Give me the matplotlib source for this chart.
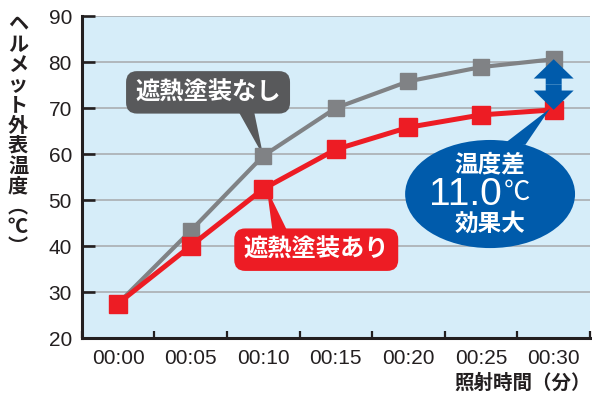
import numpy as np
import matplotlib.pyplot as plt
from matplotlib.patches import Polygon, Ellipse, FancyArrow

times = ["00:00", "00:05", "00:10", "00:15", "00:20", "00:25", "00:30"]
no_coat = [27.5, 43.3, 59.6, 70.0, 75.8, 78.9, 80.6]    # 遮熱塗装なし
with_coat = [27.5, 40.0, 52.4, 61.0, 65.8, 68.5, 69.6]  # 遮熱塗装あり
yticks = [20, 30, 40, 50, 60, 70, 80, 90]
ylabel_chars = ["ヘ", "ル", "メ", "ッ", "ト", "外", "表", "温", "度", "︵", "℃", "︶"]
diff_value = "11.0"

JP = "Noto Sans CJK JP"
BG = "#d6edf9"
GRAY = "#808285"
RED = "#ed1c24"
BLUE = "#005bab"
DARK = "#231f20"
BOX_GRAY = "#58595b"

W, H = 592, 394
fig = plt.figure(figsize=(W / 100, H / 100), dpi=100)
ax = fig.add_axes([81.7 / W, 1 - 338 / H, (590 - 81.7) / W, (338 - 16) / H])
ax.set_facecolor(BG)

x = np.arange(len(times))
ax.set_xlim(-0.5, len(times) - 0.5)
ax.set_ylim(20, 90)

# horizontal grid
for v in yticks[1:]:
    ax.axhline(v, color="#a7a9ac", lw=1.1, zorder=1)

ax.plot(x, no_coat, color=GRAY, lw=3.0, marker="s", ms=12, mec=GRAY, zorder=4)
ax.plot(x, with_coat, color=RED, lw=3.6, marker="s", ms=13, mec=RED, zorder=5)

# axes styling
for s in ["top", "right"]:
    ax.spines[s].set_visible(False)
for s in ["left", "bottom"]:
    ax.spines[s].set_linewidth(2.2)
    ax.spines[s].set_color(DARK)
ax.set_yticks(yticks)
ax.tick_params(axis="y", direction="in", length=9.5, width=1.9, color=DARK,
               pad=7, labelsize=15, labelcolor=DARK)
ax.set_xticks(x)
ax.set_xticklabels(times)
ax.set_xticks(np.arange(-0.5, len(times)), minor=True)
ax.tick_params(axis="x", which="major", length=0, pad=8, labelsize=15, labelcolor=DARK)
ax.tick_params(axis="x", which="minor", direction="in", length=5, width=1.6, color=DARK)
for lab in ax.get_xticklabels() + ax.get_yticklabels():
    lab.set_family("Liberation Sans")

# callout: 遮熱塗装なし
ax.add_patch(Polygon([[1.65, 69.5], [1.87, 69.5], [2, no_coat[2]]],
                     closed=True, fc=BOX_GRAY, ec="none", zorder=3))
ax.text(1.24, 73.4, "遮熱塗装なし", ha="center", va="center", color="white",
        fontsize=17.5, fontweight="bold", family=JP, zorder=6,
        bbox=dict(boxstyle="round,pad=0.38,rounding_size=0.45", fc=BOX_GRAY, ec="none"))

# callout: 遮熱塗装あり
ax.add_patch(Polygon([[2.13, 43.0], [2.34, 43.0], [2.05, with_coat[2]]],
                     closed=True, fc=RED, ec="none", zorder=3))
ax.text(2.73, 39.2, "遮熱塗装あり", ha="center", va="center", color="white",
        fontsize=17.5, fontweight="bold", family=JP, zorder=6,
        bbox=dict(boxstyle="round,pad=0.38,rounding_size=0.45", fc=RED, ec="none"))

# difference arrow at 00:30
mid = (no_coat[-1] + with_coat[-1]) / 2
for end in (no_coat[-1], with_coat[-1]):
    ax.add_patch(FancyArrow(x[-1], mid, 0, end - mid, width=0.22, head_width=0.55,
                            head_length=4.2, length_includes_head=True,
                            fc=BLUE, ec="none", zorder=7))

# blue bubble
ax.add_patch(Polygon([[5.30, 62.0], [5.61, 62.0], [5.95, with_coat[-1] + 0.3]],
                     closed=True, fc=BLUE, ec="none", zorder=7))
ax.add_patch(Ellipse((5.124, 51.3), 2.34, 23.5, fc=BLUE, ec="none", zorder=7))
ax.text(5.124, 57.8, "温度差", ha="center", va="center", color="white",
        fontsize=17, fontweight="bold", family=JP, zorder=8)
ax.text(5.29, 51.0, diff_value, ha="right", va="center", color="white",
        fontsize=28, family="Liberation Sans", zorder=8)
ax.text(5.31, 51.6, "℃", ha="left", va="center", color="white",
        fontsize=19, family=JP, zorder=8)
ax.text(5.124, 44.8, "効果大", ha="center", va="center", color="white",
        fontsize=17, fontweight="bold", family=JP, zorder=8)

# vertical y-axis label, one character per row
for i, ch in enumerate(ylabel_chars):
    fig.text(18 / W, 1 - (24 + i * 20.2) / H, ch, ha="center", va="center",
             fontsize=14.5, color=DARK, family=JP, fontweight="bold")

fig.text(591 / W, 1 - 383 / H, "照射時間（分）", ha="right", va="center",
         fontsize=14, color=DARK, family=JP, fontweight="bold")

fig.savefig("out.png", dpi=100, facecolor="white")
